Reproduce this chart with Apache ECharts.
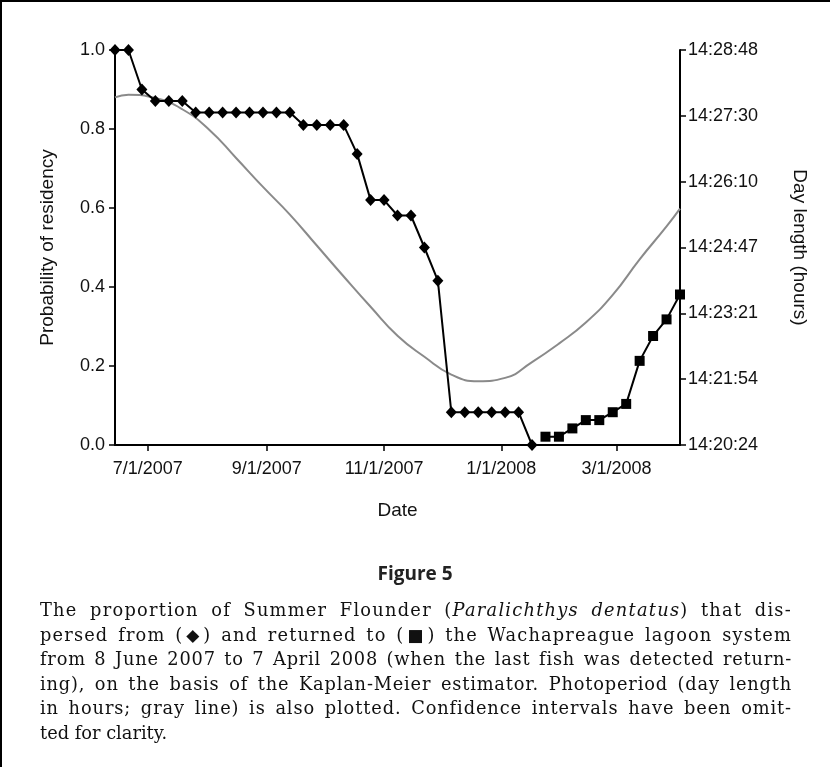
<!DOCTYPE html>
<html>
<head>
<meta charset="utf-8">
<script src="https://cdn.jsdelivr.net/npm/echarts@6/dist/echarts.min.js"></script>
<style>
  html, body { margin: 0; padding: 0; background: #fff; }
  #chart { position: absolute; left: 0; top: 0; width: 830px; height: 767px; }
  #caption { position: absolute; left: 40px; top: 598px; width: 752px; font-family: "DejaVu Serif", serif; font-size: 17.8px; color: #111; line-height: 24.6px; }
  #caption div { white-space: nowrap; text-align: justify; text-align-last: justify; }
  #caption div.last { text-align-last: left; }
  #caption .sym { font-family: "DejaVu Sans", sans-serif; font-size: 17px; }
</style>
</head>
<body>
<div id="chart"></div>
<div id="caption"></div>
<script>
// Kaplan-Meier: fish leaving the lagoon (diamonds)
const departDates = ['2007-06-14','2007-06-21','2007-06-28','2007-07-05','2007-07-12','2007-07-19','2007-07-26','2007-08-02',
  '2007-08-09','2007-08-16','2007-08-23','2007-08-30','2007-09-06','2007-09-13','2007-09-20','2007-09-27','2007-10-04',
  '2007-10-11','2007-10-18','2007-10-25','2007-11-01','2007-11-08','2007-11-15','2007-11-22','2007-11-29','2007-12-06',
  '2007-12-13','2007-12-20','2007-12-27','2008-01-03','2008-01-10','2008-01-17'];
const departValues = [1.0, 1.0, 0.9, 0.871, 0.871, 0.871, 0.842, 0.842, 0.842, 0.842, 0.842, 0.842, 0.842, 0.842,
  0.81, 0.81, 0.81, 0.81, 0.737, 0.62, 0.62, 0.581, 0.581, 0.5, 0.416, 0.083, 0.083, 0.083, 0.083, 0.083, 0.083, 0.0];

// fish coming back (squares)
const returnDates = ['2008-01-24','2008-01-31','2008-02-07','2008-02-14','2008-02-21','2008-02-28','2008-03-06',
  '2008-03-13','2008-03-20','2008-03-27','2008-04-03'];
const returnValues = [0.021, 0.021, 0.042, 0.063, 0.063, 0.083, 0.104, 0.213, 0.276, 0.318, 0.381];

// photoperiod, in steps of the right axis (0 = first tick, 6 = last tick)
const dayDates = ['2007-06-14','2007-06-21','2007-07-05','2007-07-19','2007-08-02','2007-08-16','2007-08-30','2007-09-13',
  '2007-09-27','2007-10-11','2007-10-25','2007-11-08','2007-11-22','2007-12-06','2007-12-20','2008-01-03','2008-01-17',
  '2008-01-31','2008-02-14','2008-02-28','2008-03-13','2008-03-27','2008-04-03'];
const dayValues = [5.28, 5.32, 5.27, 5.10, 4.79, 4.36, 3.92, 3.50, 3.03, 2.56, 2.10, 1.66, 1.34, 1.07, 0.97, 1.02, 1.26,
  1.54, 1.86, 2.28, 2.82, 3.32, 3.59];

const dateTicks = ['2007-07-01', '2007-09-01', '2007-11-01', '2008-01-01', '2008-03-01'];
const dayLengthTicks = ['14:20:24', '14:21:54', '14:23:21', '14:24:47', '14:26:10', '14:27:30', '14:28:48'];
const xMinDate = '2007-06-14', xMaxDate = '2008-04-03';

const captionLines = [
  'The proportion of Summer Flounder (<i>Paralichthys dentatus</i>) that dis-',
  'persed from (<span class="sym">\u25C6</span>) and returned to (<span class="sym">\u25A0</span>) the Wachapreague lagoon system',
  'from 8 June 2007 to 7 April 2008 (when the last fish was detected return-',
  'ing), on the basis of the Kaplan-Meier estimator. Photoperiod (day length',
  'in hours; gray line) is also plotted. Confidence intervals have been omit-',
  'ted for clarity.'
];

const ts = s => { const [y, m, d] = s.split('-').map(Number); return new Date(y, m - 1, d).getTime(); };
const pairs = (dates, vals) => dates.map((d, i) => [ts(d), vals[i]]);
const fmtDate = v => { const d = new Date(v); return (d.getMonth() + 1) + '/' + d.getDate() + '/' + d.getFullYear(); };

// caption: justified lines, part of the slack goes into letter spacing (the original face is wider)
const cap = document.getElementById('caption');
captionLines.forEach((l, i) => {
  const div = document.createElement('div');
  div.innerHTML = l;
  cap.appendChild(div);
  if (i === captionLines.length - 1) { div.className = 'last'; return; }
  const probe = document.createElement('span');
  probe.innerHTML = l;
  probe.style.cssText = 'position:absolute;visibility:hidden;white-space:nowrap;left:0;top:0';
  cap.appendChild(probe);
  const w = probe.getBoundingClientRect().width;
  const n = probe.textContent.length;
  cap.removeChild(probe);
  const slack = 752 - w;
  if (slack > 0) div.style.letterSpacing = Math.min(1.6, slack * 0.65 / n).toFixed(2) + 'px';
});

const SANS = '"Liberation Sans", Arial, sans-serif';
const axisLine = { show: true, lineStyle: { color: '#000', width: 2 } };
const tick = { show: true, length: 6, lineStyle: { color: '#000', width: 1.5 } };
const label = { color: '#111', fontSize: 18, fontFamily: SANS };
const nameStyle = { color: '#111', fontSize: 19, fontFamily: SANS };

const chart = echarts.init(document.getElementById('chart'), null, { renderer: 'canvas' });
chart.setOption({
  animation: false,
  backgroundColor: '#fff',
  grid: { left: 115, right: 150, top: 50, bottom: 322 },
  xAxis: {
    type: 'value', min: ts(xMinDate), max: ts(xMaxDate),
    axisLine, splitLine: { show: false },
    axisTick: { ...tick, customValues: dateTicks.map(ts) },
    axisLabel: { ...label, margin: 15, customValues: dateTicks.map(ts), formatter: fmtDate },
    name: 'Date', nameLocation: 'middle', nameGap: 56, nameTextStyle: nameStyle
  },
  yAxis: [{
    type: 'value', min: 0, max: 1, interval: 0.2,
    axisLine, axisTick: tick, splitLine: { show: false },
    axisLabel: { ...label, margin: 10, formatter: v => v.toFixed(1) },
    name: 'Probability of residency', nameLocation: 'middle', nameRotate: 90, nameGap: 58, nameTextStyle: nameStyle
  }, {
    type: 'value', position: 'right', min: 0, max: 6, interval: 1,
    axisLine, axisTick: tick, splitLine: { show: false },
    axisLabel: { ...label, margin: 8, formatter: v => dayLengthTicks[Math.round(v)] },
    name: 'Day length (hours)', nameLocation: 'middle', nameRotate: -90, nameGap: 110, nameTextStyle: nameStyle
  }],
  series: [{
    name: 'Day length', type: 'line', yAxisIndex: 1, smooth: true, showSymbol: false, clip: false,
    lineStyle: { color: '#8a8a8a', width: 2 }, data: pairs(dayDates, dayValues), z: 1
  }, {
    name: 'Dispersed', type: 'line', yAxisIndex: 0, symbol: 'diamond', symbolSize: [11, 12], clip: false,
    itemStyle: { color: '#000' }, lineStyle: { color: '#000', width: 2 }, data: pairs(departDates, departValues), z: 3
  }, {
    name: 'Returned', type: 'line', yAxisIndex: 0, symbol: 'rect', symbolSize: 10, clip: false,
    itemStyle: { color: '#000' }, lineStyle: { color: '#000', width: 2 }, data: pairs(returnDates, returnValues), z: 3
  }],
  graphic: [
    { type: 'line', shape: { x1: 1, y1: 0, x2: 1, y2: 767 }, style: { stroke: '#000', lineWidth: 2 } },
    { type: 'line', shape: { x1: 0, y1: 1, x2: 830, y2: 1 }, style: { stroke: '#000', lineWidth: 2 } },
    { type: 'text', left: 'center', top: 565, style: { text: 'Figure 5', font: 'bold 19px "Open Sans", "Liberation Sans", sans-serif', fill: '#222' } }
  ]
});
</script>
</body>
</html>
